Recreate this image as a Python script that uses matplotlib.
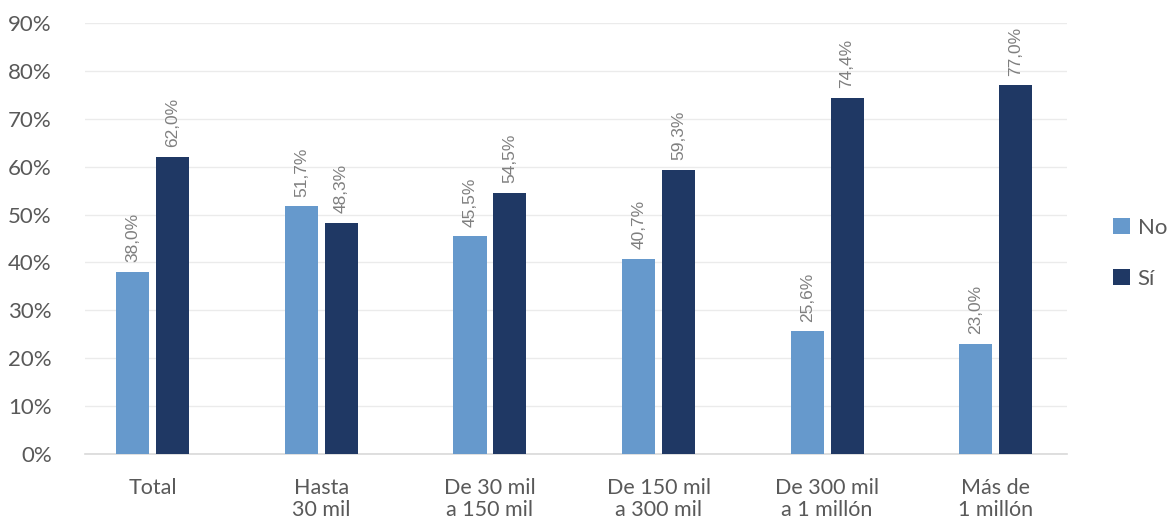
import matplotlib
matplotlib.use("Agg")
import matplotlib.pyplot as plt
import numpy as np

categories = ["Total", "Hasta\n30 mil", "De 30 mil\na 150 mil", "De 150 mil\na 300 mil",
              "De 300 mil\na 1 millón", "Más de\n1 millón"]
no_values = [38.0, 51.7, 45.5, 40.7, 25.6, 23.0]
si_values = [62.0, 48.3, 54.5, 59.3, 74.4, 77.0]
series_names = ["No", "Sí"]
yticks = [0, 10, 20, 30, 40, 50, 60, 70, 80, 90]

color_no = "#6699CC"
color_si = "#1F3864"
text_color = "#595959"

plt.rcParams["font.family"] = ["Lato", "DejaVu Sans"]

fig = plt.figure(figsize=(11.67, 5.22), dpi=100)
ax = fig.add_axes([0.073, 0.1303, 0.841, 0.8257])

x = np.arange(len(categories))
w = 0.196
off = 0.118
b1 = ax.bar(x - off, no_values, w, color=color_no, label=series_names[0], zorder=3)
b2 = ax.bar(x + off, si_values, w, color=color_si, label=series_names[1], zorder=3)

for bars, vals in ((b1, no_values), (b2, si_values)):
    for rect, v in zip(bars, vals):
        ax.text(rect.get_x() + rect.get_width() / 2, v + 2.0,
                f"{v:.1f}%".replace(".", ","), rotation=90, ha="center", va="bottom",
                fontsize=12.5, color="#7F7F7F", family=["Liberation Sans", "DejaVu Sans"])

ax.set_xlim(-0.40, 5.42)
ax.set_ylim(0, 90)
ax.set_yticks(yticks)
ax.set_yticklabels([f"{t}%" for t in yticks], fontsize=16, color=text_color)
ax.set_xticks(x)
ax.set_xticklabels(categories, fontsize=15.5, color=text_color, linespacing=1.15)
ax.tick_params(axis="both", length=0)
ax.tick_params(axis="x", pad=17)
ax.tick_params(axis="y", pad=24)

ax.grid(axis="y", color="#EBEBEB", linewidth=1, zorder=0)
for s in ("top", "right", "left"):
    ax.spines[s].set_visible(False)
ax.spines["bottom"].set_color("#D9D9D9")
ax.spines["bottom"].set_linewidth(1.2)

fig.legend(handles=[b1, b2], labels=series_names, loc="center left",
           bbox_to_anchor=(0.954, 0.515), frameon=False, fontsize=16,
           handlelength=0.75, handleheight=0.75, handletextpad=0.35,
           labelspacing=1.4, labelcolor=text_color, borderaxespad=0, borderpad=0)

fig.savefig("out.png", dpi=100)
